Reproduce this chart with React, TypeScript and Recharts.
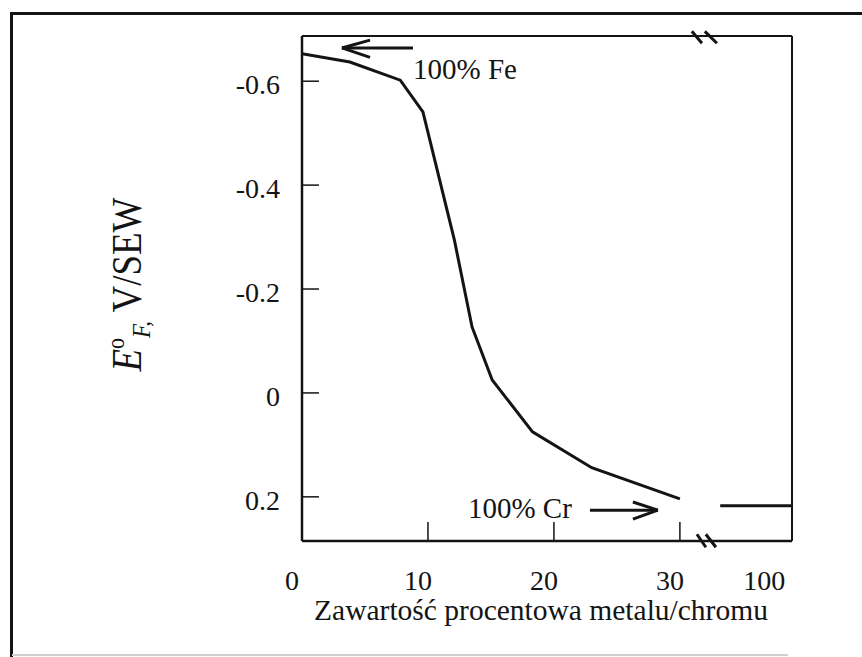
import React from 'react';
import { LineChart, Line, XAxis, YAxis, ReferenceLine, ReferenceDot } from 'recharts';

// ---- data ----
// Cr content (%) and free-corrosion potential E°F (V vs SEW)
const crContent = [0, 3.8, 7.8, 9.6, 12.1, 13.5, 15.1, 18.3, 23.0, 30.0];
const potential = [-0.653, -0.637, -0.602, -0.541, -0.294, -0.127, -0.025, 0.075, 0.144, 0.204];

// pure chromium level, drawn after the axis break (axis position units)
const pureCrX = [33.2, 38.9];
const pureCrPotential = 0.217;

// axis (position units; the axis is broken between 30 and 100)
const xDomain = [0, 38.9];
const yDomain = [-0.687, 0.285];
const xTickPos = [0, 10, 20, 30, 37.5];
const xTickLabels = ['0', '10', '20', '30', '100'];
const xMarkedTicks = [10, 20, 30];
const yTicks = [-0.6, -0.4, -0.2, 0, 0.2];

// annotations (data units)
const feArrowX = [8.81, 3.17, 5.4];
const feArrowY = [-0.664, -0.679, -0.646];
const crArrowX = [22.86, 28.25, 26.27];
const crArrowY = [0.2256, 0.21, 0.243];
const feLabel = { x: 8.81, y: -0.604, text: '100% Fe' };
const crLabel = { x: 13.17, y: 0.241, text: '100% Cr' };
const breakTopX = [30.95, 31.75, 31.98, 32.94];
const breakTopY = [-0.696, -0.673];
const breakBotX = [31.35, 32.06, 32.06, 32.86];
const breakBotY = [0.272, 0.297];

const FONT = '"Liberation Serif", "Times New Roman", serif';
const INK = '#141414';

const curveData = crContent.map((x, i) => ({ pos: x, e: potential[i] }));
const pureCrData = pureCrX.map((x) => ({ pos: x, e: pureCrPotential }));

const XTick = (props: any) => {
  const { x, y, payload } = props;
  const i = xTickPos.indexOf(payload.value);
  const mark = xMarkedTicks.includes(payload.value);
  return (
    <g>
      {mark && <line x1={x} x2={x} y1={y} y2={y - 19} stroke={INK} strokeWidth={1.5} />}
      <text
        x={x - 10}
        y={y + 49}
        textAnchor="middle"
        fontSize={28}
        fontFamily={FONT}
        style={{ fontFamily: FONT }}
        fill={INK}
      >
        {xTickLabels[i]}
      </text>
    </g>
  );
};

const YTick = (props: any) => {
  const { x, y, payload } = props;
  const v = payload.value as number;
  const label = v === 0 ? '0' : v.toFixed(1);
  return (
    <g>
      <line x1={x} x2={x + 17} y1={y} y2={y} stroke={INK} strokeWidth={1.5} />
      <text
        x={x - 22}
        y={y + 13}
        textAnchor="end"
        fontSize={28}
        fontFamily={FONT}
        style={{ fontFamily: FONT }}
        fill={INK}
      >
        {label}
      </text>
    </g>
  );
};

const YTitle = (props: any) => {
  const vb = props.viewBox || { x: 0, y: 36, width: 302, height: 505 };
  const cx = vb.x + 141;
  const cy = vb.y + vb.height / 2 - 4;
  return (
    <text
      transform={`translate(${cx},${cy}) rotate(-90) scale(1,1.12)`}
      textAnchor="middle"
      fontSize={37}
      fontFamily={FONT}
      style={{ fontFamily: FONT }}
      fill={INK}
    >
      <tspan fontStyle="italic">E</tspan>
      <tspan fontSize={22} dy={-15}>o</tspan>
      <tspan fontSize={23} fontStyle="italic" dy={23}>F,</tspan>
      <tspan dy={-8}> V/SEW</tspan>
    </text>
  );
};

const XTitle = (props: any) => {
  const vb = props.viewBox || { x: 302, y: 541, width: 490, height: 116 };
  return (
    <text
      x={vb.x + vb.width / 2 - 6}
      y={vb.y + 79}
      textAnchor="middle"
      fontSize={29.5}
      fontFamily={FONT}
      style={{ fontFamily: FONT }}
      fill={INK}
    >
      Zawartość procentowa metalu/chromu
    </text>
  );
};

const textShape = (label: string) => (p: any) => (
  <text
    x={p.cx}
    y={p.cy}
    textAnchor="start"
    fontSize={29}
    fontFamily={FONT}
    style={{ fontFamily: FONT }}
    fill={INK}
  >
    {label}
  </text>
);

const seg = (x1: number, y1: number, x2: number, y2: number, key: string, w = 2.5) => (
  <ReferenceLine
    key={key}
    segment={[{ x: x1, y: y1 }, { x: x2, y: y2 }]}
    stroke={INK}
    strokeWidth={w}
    ifOverflow="visible"
  />
);

export default function App() {
  return (
    <div style={{ position: 'absolute', left: 0, top: 0, width: 862, height: 657, background: '#fff' }}>
      <div
        style={{
          position: 'absolute',
          left: 10,
          top: 12,
          width: 852,
          height: 645,
          borderLeft: `3px solid ${INK}`,
          borderTop: `3px solid ${INK}`,
          boxSizing: 'border-box',
        }}
      />
      <div
        style={{ position: 'absolute', left: 12, top: 654, width: 776, height: 0, borderTop: '2px solid #cfcfcf' }}
      />
      <div style={{ position: 'absolute', left: 0, top: 0 }}>
        <LineChart width={862} height={657} margin={{ top: 36, right: 70, bottom: 0, left: 0 }}>
          <XAxis
            dataKey="pos"
            type="number"
            domain={xDomain}
            ticks={xTickPos}
            allowDataOverflow
            interval={0}
            height={116}
            tickSize={0}
            tickMargin={0}
            tickLine={false}
            axisLine={{ stroke: INK, strokeWidth: 2.5 }}
            tick={<XTick />}
            label={{ content: <XTitle /> }}
          />
          <YAxis
            type="number"
            domain={yDomain}
            reversed
            ticks={yTicks}
            allowDataOverflow
            interval={0}
            width={302}
            tickSize={0}
            tickMargin={0}
            tickLine={false}
            axisLine={{ stroke: INK, strokeWidth: 2.5 }}
            tick={<YTick />}
            label={{ content: <YTitle /> }}
          />
          <ReferenceLine x={xDomain[1]} stroke={INK} strokeWidth={2} ifOverflow="visible" />
          <ReferenceLine y={yDomain[0]} stroke={INK} strokeWidth={2} ifOverflow="visible" />

          <Line
            data={curveData}
            dataKey="e"
            type="linear"
            stroke={INK}
            strokeWidth={3}
            dot={false}
            isAnimationActive={false}
          />
          <Line
            data={pureCrData}
            dataKey="e"
            type="linear"
            stroke={INK}
            strokeWidth={3}
            dot={false}
            isAnimationActive={false}
          />

          {seg(feArrowX[0], feArrowY[0], feArrowX[1], feArrowY[0], 'fe0', 3)}
          {seg(feArrowX[1], feArrowY[0], feArrowX[2], feArrowY[1], 'fe1', 3)}
          {seg(feArrowX[1], feArrowY[0], feArrowX[2], feArrowY[2], 'fe2', 3)}
          {seg(crArrowX[0], crArrowY[0], crArrowX[1], crArrowY[0], 'cr0', 3)}
          {seg(crArrowX[1], crArrowY[0], crArrowX[2], crArrowY[1], 'cr1', 3)}
          {seg(crArrowX[1], crArrowY[0], crArrowX[2], crArrowY[2], 'cr2', 3)}

          {seg(breakTopX[0], breakTopY[0], breakTopX[1], breakTopY[1], 'bt0', 3)}
          {seg(breakTopX[2], breakTopY[0], breakTopX[3], breakTopY[1], 'bt1', 3)}
          {seg(breakBotX[0], breakBotY[0], breakBotX[1], breakBotY[1], 'bb0', 3)}
          {seg(breakBotX[2], breakBotY[0], breakBotX[3], breakBotY[1], 'bb1', 3)}

          <ReferenceDot x={feLabel.x} y={feLabel.y} r={0} ifOverflow="visible" shape={textShape(feLabel.text)} />
          <ReferenceDot x={crLabel.x} y={crLabel.y} r={0} ifOverflow="visible" shape={textShape(crLabel.text)} />
        </LineChart>
      </div>
    </div>
  );
}
